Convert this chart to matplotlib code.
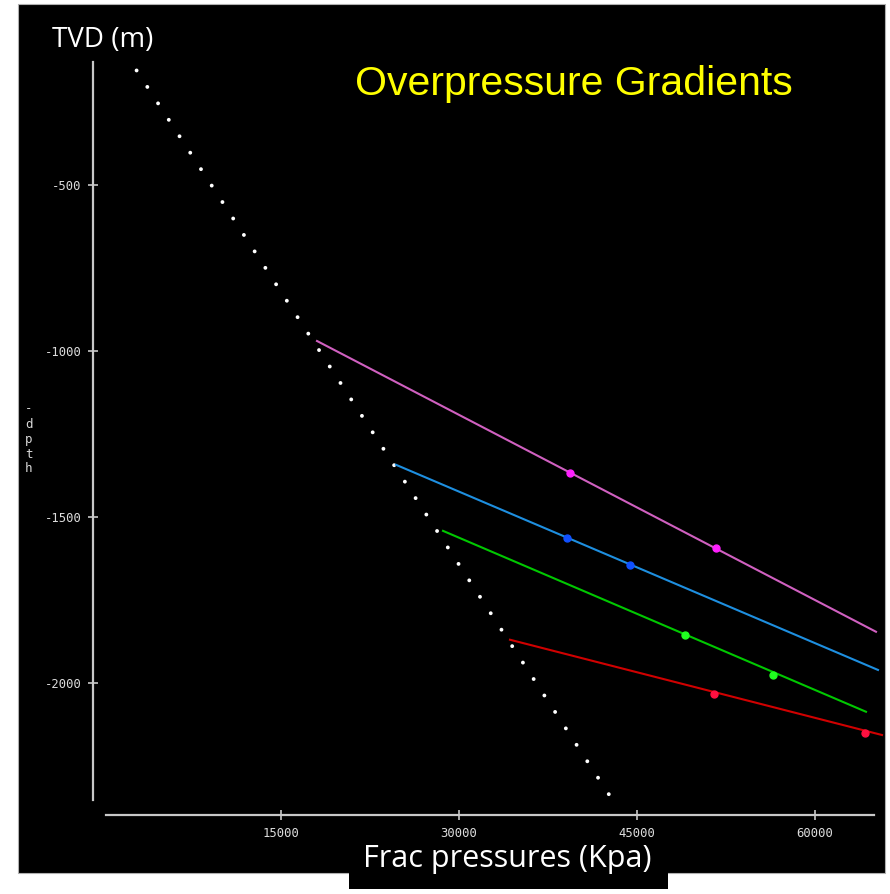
import matplotlib
matplotlib.use('Agg')
import matplotlib.pyplot as plt
from matplotlib.patches import Rectangle

# lithostatic / frac trend (dotted white), end points
litho_p = [2830, 42800]
litho_d = [-155, -2345]

# overpressure gradients: start/end of each line, and measured points
mag_line_p = [18034, 65140]
mag_line_d = [-970, -1846]
mag_pts_p = [39354, 51657]
mag_pts_d = [-1367, -1593]

blue_line_p = [24691, 65309]
blue_line_d = [-1343, -1961]
blue_pts_p = [39101, 44410]
blue_pts_d = [-1563, -1645]

green_line_p = [28652, 64298]
green_line_d = [-1542, -2087]
green_pts_p = [49045, 56461]
green_pts_d = [-1855, -1976]

red_line_p = [34298, 65646]
red_line_d = [-1870, -2157]
red_pts_p = [51489, 64214]
red_pts_d = [-2033, -2151]

xticks = [15000, 30000, 45000, 60000]
yticks = [-500, -1000, -1500, -2000]

W, H = 890, 894
fig = plt.figure(figsize=(W / 100, H / 100), dpi=100)
fig.patch.set_facecolor('white')

# black slide background + box under the x label
fig.patches.append(Rectangle((18 / W, 1 - 873 / H), (885 - 18) / W, (873 - 4) / H,
                             transform=fig.transFigure, facecolor='black',
                             edgecolor='#b0b0b0', linewidth=0.8, zorder=-10))
fig.patches.append(Rectangle((349 / W, 1 - 889 / H), (668 - 349) / W, 20 / H,
                             transform=fig.transFigure, facecolor='black',
                             edgecolor='none', zorder=-10))

ax = fig.add_axes([93 / W, 1 - 815 / H, (885 - 93) / W, (815 - 19) / H])
ax.set_facecolor('none')
ax.set_xlim(-843, 65900)
ax.set_ylim(-2398, 0)

axc = '#c8c8c8'
for s in ['top', 'right']:
    ax.spines[s].set_visible(False)
for s in ['left', 'bottom']:
    ax.spines[s].set_color(axc)
    ax.spines[s].set_linewidth(1.6)
ax.spines['left'].set_bounds(-2352, -130)
ax.spines['bottom'].set_bounds(250, 65000)

ax.set_xticks(xticks)
ax.set_yticks(yticks)
ax.set_xticklabels([str(v) for v in xticks])
ax.set_yticklabels([str(v) for v in yticks])
ax.tick_params(direction='inout', length=6.5, width=1.2, color=axc,
               labelcolor='#dcdcdc', labelsize=8.8)
ax.tick_params(axis='x', pad=5.5)
ax.tick_params(axis='y', pad=5)
for lab in ax.get_xticklabels() + ax.get_yticklabels():
    lab.set_family('DejaVu Sans Mono')

ax.plot(litho_p, litho_d, color='white', linewidth=2.8,
        linestyle=(0, (0.01, 5.04)), dash_capstyle='round', zorder=2)

ax.plot(mag_line_p, mag_line_d, color='#d060c0', linewidth=1.5, zorder=3)
ax.plot(mag_pts_p, mag_pts_d, 'o', color='#ff20ff', markersize=5, zorder=4)
ax.plot(blue_line_p, blue_line_d, color='#1e8fe0', linewidth=1.5, zorder=3)
ax.plot(blue_pts_p, blue_pts_d, 'o', color='#1050ff', markersize=5, zorder=4)
ax.plot(green_line_p, green_line_d, color='#00c800', linewidth=1.5, zorder=3)
ax.plot(green_pts_p, green_pts_d, 'o', color='#20ff20', markersize=5, zorder=4)
ax.plot(red_line_p, red_line_d, color='#d00000', linewidth=1.5, zorder=3)
ax.plot(red_pts_p, red_pts_d, 'o', color='#ff1040', markersize=5, zorder=4)

for ln in ax.lines:
    ln.set_clip_on(False)

fig.text(52 / W, 1 - 40 / H, 'TVD (m)', color='white', fontsize=20,
         family='Open Sans', ha='left', va='center')
fig.text(574 / W, 1 - 84 / H, 'Overpressure Gradients', color='#ffff00',
         fontsize=29.5, family='Liberation Sans', ha='center', va='center')
fig.text(507 / W, 1 - 859 / H, 'Frac pressures (Kpa)', color='white',
         fontsize=22, family='Open Sans', ha='center', va='center')
fig.text(29 / W, 1 - 439 / H, '-\nd\np\nt\nh', color='#d8d8d8', fontsize=9,
         family='DejaVu Sans Mono', ha='center', va='center', linespacing=1.2)

fig.savefig('out.png', dpi=100, facecolor=fig.get_facecolor())
